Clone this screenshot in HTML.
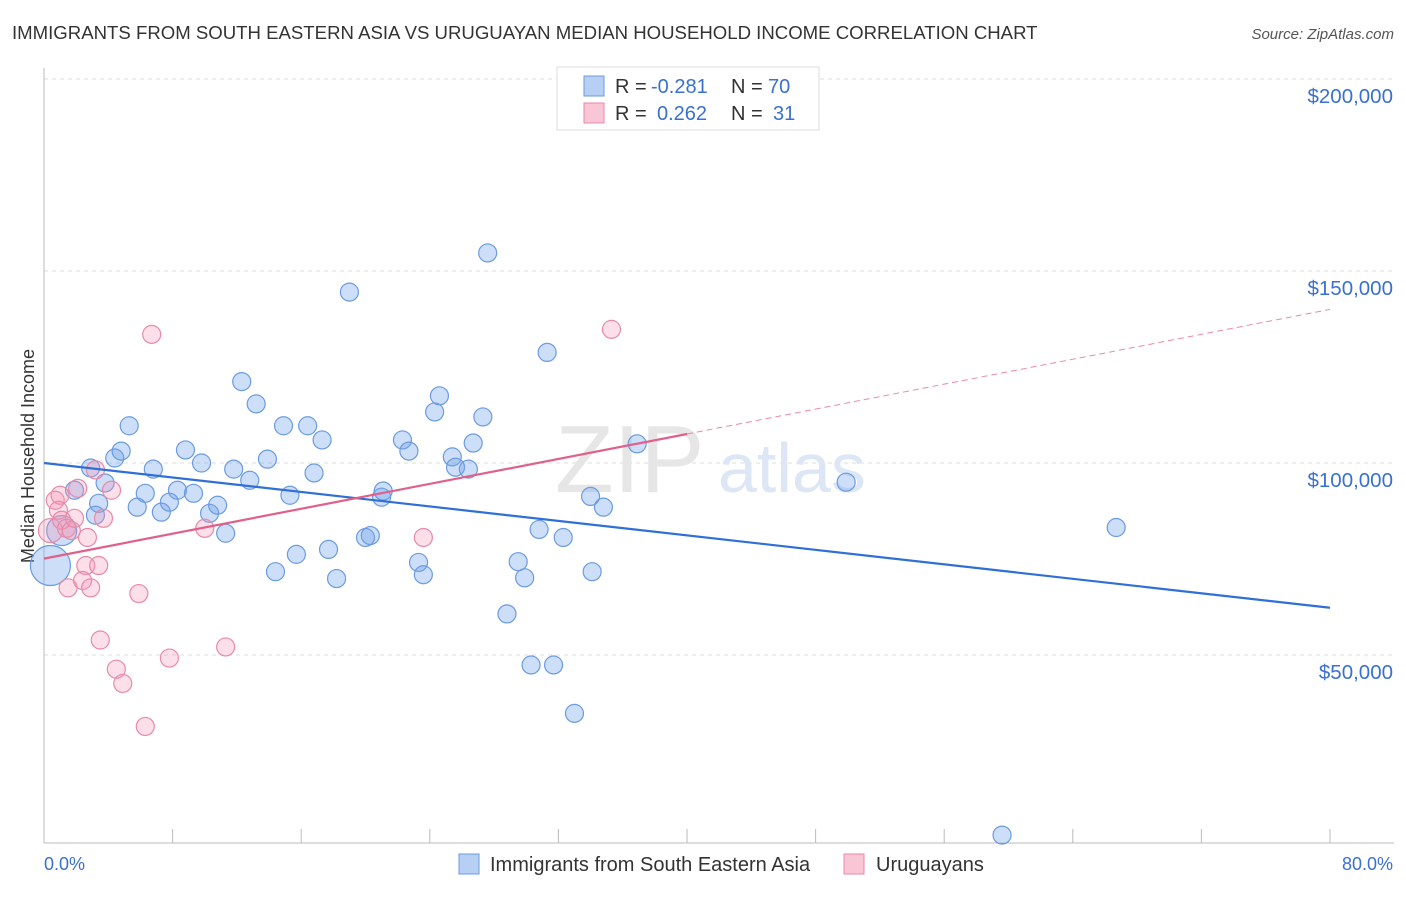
<!DOCTYPE html>
<html><head><meta charset="utf-8"><style>
body{margin:0;background:#fff;font-family:"Liberation Sans",sans-serif;}
svg text{font-family:"Liberation Sans",sans-serif;white-space:pre;}
</style></head><body>
<svg id="c" width="1406" height="892" xmlns="http://www.w3.org/2000/svg">
<text x="12" y="39" font-size="18.6" fill="#333">IMMIGRANTS FROM SOUTH EASTERN ASIA VS URUGUAYAN MEDIAN HOUSEHOLD INCOME CORRELATION CHART</text>
<text x="1394" y="39" font-size="15" fill="#555" text-anchor="end" font-style="italic">Source: ZipAtlas.com</text>
<text x="34" y="456" font-size="18" fill="#333" text-anchor="middle" transform="rotate(-90 34 456)">Median Household Income</text>
<g id="grid"></g>
<text x="555" y="492" font-size="96" fill="#e6e6e6" font-family="Liberation Serif">ZIP</text>
<text x="718" y="492" font-size="70" fill="#dce6f4">atlas</text>
<g id="pts"></g>
<g id="lines"></g>
<g>
<rect x="557" y="67" width="262" height="63" fill="#fff" stroke="#ddd"/>
<rect x="584" y="76" width="20" height="20" fill="#b7cff2" stroke="#6b9be0"/>
<rect x="584" y="103" width="20" height="20" fill="#f8c6d5" stroke="#e88aa8"/>
<text x="615" y="93" font-size="20" fill="#333">R = </text>
<text x="651" y="93" font-size="20" fill="#3a70d0">-0.281</text>
<text x="731" y="93" font-size="20" fill="#333">N = </text>
<text x="768" y="93" font-size="20" fill="#3a70d0">70</text>
<text x="615" y="120" font-size="20" fill="#333">R = </text>
<text x="657" y="120" font-size="20" fill="#3a70d0">0.262</text>
<text x="731" y="120" font-size="20" fill="#333">N = </text>
<text x="773" y="120" font-size="20" fill="#3a70d0">31</text>
</g>
<text x="44" y="870" font-size="18" fill="#3a70d0">0.0%</text>
<text x="1393" y="870" font-size="18" fill="#3a70d0" text-anchor="end">80.0%</text>
<g>
<rect x="459" y="854" width="20" height="20" fill="#b7cff2" stroke="#6b9be0"/>
<text x="490" y="871" font-size="20" fill="#333">Immigrants from South Eastern Asia</text>
<rect x="844" y="854" width="20" height="20" fill="#f8c6d5" stroke="#e88aa8"/>
<text x="876" y="871" font-size="20" fill="#333">Uruguayans</text>
</g>
</svg>
<script>
const yTicks=[50000,100000,150000,200000];
const yTickLabels=["$50,000","$100,000","$150,000","$200,000"];
const xTicks=[0,8,16,24,32,40,48,56,64,72,80];
const blueX=[0.4,1.1,1.9,2.9,3.4,3.8,3.2,4.4,4.8,5.3,5.8,6.3,6.8,7.3,7.8,8.3,8.8,9.3,9.8,10.3,10.8,11.3,11.8,12.3,12.8,13.2,13.9,14.4,14.9,15.3,15.7,16.4,16.8,17.3,17.7,18.2,19.0,20.0,20.3,21.0,21.1,22.3,22.7,23.3,23.6,24.3,24.6,25.4,25.6,26.4,26.7,27.3,27.6,28.8,29.5,29.9,30.3,30.8,31.3,31.7,32.3,33.0,34.0,34.1,34.8,36.9,49.9,59.6,66.7];
const blueY=[73300,82400,92900,98700,89500,94800,86400,101300,103100,109700,88500,92100,98400,87200,89800,92900,103400,92100,100000,86900,89000,81700,98400,121200,95500,115400,101000,71700,109700,91600,76200,109700,97400,106000,77500,69900,144500,80600,81100,91100,92700,106000,103100,74100,70900,113300,117500,101600,98900,98400,105200,112000,154700,60700,74300,70100,47400,82700,128800,47400,80600,34800,91300,71700,88500,105000,95000,3100,83200];
const blueR=[20,15];
const pinkX=[0.4,0.7,0.9,1.1,1.4,1.0,1.7,1.9,2.1,2.7,2.6,1.5,2.4,2.9,3.4,3.2,4.2,3.7,3.5,4.5,4.9,5.9,6.3,6.7,7.8,10.0,11.3,23.6,35.3];
const pinkY=[82400,90300,87700,85100,83000,91600,82400,85600,93400,80600,73300,67500,69400,67500,73300,98200,92900,85600,53900,46300,42600,66000,31400,133500,49200,83000,52100,80600,134800];
const blueTrend=[100000,62300];
const pinkTrend=[75100,140000];
const pinkSolidEnd=40;

const X=p=>44+p*(1330-44)/80;
const Y=v=>463-(v-100000)*192/50000;
const NS="http://www.w3.org/2000/svg";
function mk(tag,attrs,parent){const e=document.createElementNS(NS,tag);for(const k in attrs)e.setAttribute(k,attrs[k]);document.getElementById(parent).appendChild(e);return e;}
for(let i=0;i<yTicks.length;i++){
 const l=mk('line',{x1:44,x2:1394,y1:Y(yTicks[i]),y2:Y(yTicks[i]),stroke:'#ddd','stroke-dasharray':'4,4'},'grid');
 
 
 const t=mk('text',{x:1393,y:Y(yTicks[i])+24,'font-size':20.5,fill:'#3a70d0','text-anchor':'end'},'grid');
 t.textContent=yTickLabels[i];
 
 
}
const ya=mk('line',{x1:44,x2:44,y1:68,y2:843,stroke:'#bbb'},'grid');


const xa=mk('line',{x1:44,x2:1394,y1:843,y2:843,stroke:'#bbb'},'grid');


for(const t of xTicks){
 const l=mk('line',{x1:X(t),x2:X(t),y1:829,y2:843,stroke:'#bbb'},'grid');
 
 
}
for(let i=0;i<blueX.length;i++){
 const c=mk('circle',{cx:X(blueX[i]),cy:Y(blueY[i]),r:blueR[i]||9,fill:'rgba(110,160,235,0.35)',stroke:'#6b9be0','stroke-width':1.2},'pts');
 
 
}
for(let i=0;i<pinkX.length;i++){
 const c=mk('circle',{cx:X(pinkX[i]),cy:Y(pinkY[i]),r:i==0?12:9,fill:'rgba(245,150,180,0.3)',stroke:'#e88aa8','stroke-width':1.2},'pts');
 
 
}
const bl=mk('line',{x1:X(0),y1:Y(blueTrend[0]),x2:X(80),y2:Y(blueTrend[1]),stroke:'#2f6fd6','stroke-width':2.2},'lines');


const pv=p=>pinkTrend[0]+(pinkTrend[1]-pinkTrend[0])*p/80;
const ps=mk('line',{x1:X(0),y1:Y(pv(0)),x2:X(pinkSolidEnd),y2:Y(pv(pinkSolidEnd)),stroke:'#e0608a','stroke-width':2.2},'lines');


const pd=mk('line',{x1:X(pinkSolidEnd),y1:Y(pv(pinkSolidEnd)),x2:X(80),y2:Y(pv(80)),stroke:'#e88aa8','stroke-width':1,'stroke-dasharray':'6,4'},'lines');


</script>
</body></html>
